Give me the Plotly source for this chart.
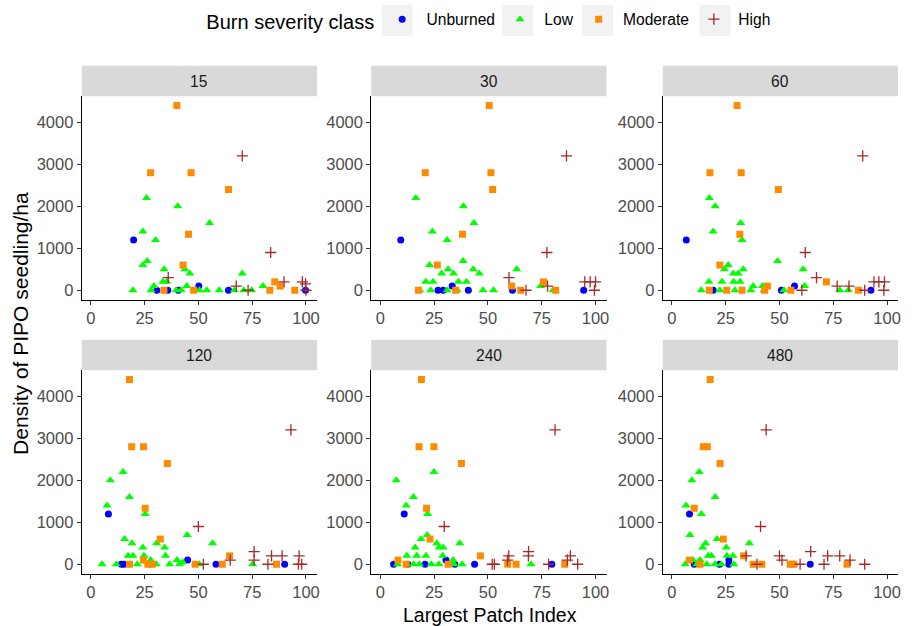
import plotly.graph_objects as go

# Largest Patch Index (%) and PIPO seedling density (seedlings/ha) per plot,
# grouped by analysis scale and burn severity class.
S15_UNBURNED = [(19.9, 1200), (50.2, 100), (64, 0), (30.7, 0), (35.8, 0), (40.7, 0), (99.8, 0)]
S15_LOW = [(25.9, 2200), (40.4, 2000), (55.2, 1600), (24.2, 1400), (30.1, 1200), (26.2, 700), (24.2, 600),
           (34.1, 500), (43.7, 500), (46, 400), (70.4, 400), (35.3, 200), (33.5, 200), (44.6, 100), (80, 100),
           (19.6, 0), (28, 0), (29.3, 100), (39.7, 0), (42, 0), (50.5, 0), (53.9, 0), (59.7, 0), (71.1, 0),
           (74.7, 0), (66.7, 0)]
S15_MODERATE = [(40, 4400), (27.8, 2800), (46.6, 2800), (64, 2400), (45.4, 1333), (42.9, 600), (34, 0),
                (47.8, 0), (85.5, 200), (88, 100), (83.2, 0), (94.8, 0)]
S15_HIGH = [(70.4, 3200), (83.6, 900), (36, 300), (67.6, 100), (73.1, 0), (89.8, 200), (98.3, 200),
            (99.8, 150), (100, 0)]

S30_UNBURNED = [(9.5, 1200), (33.4, 100), (26.8, 0), (29.2, 0), (40.9, 0), (61.4, 0), (94.5, 0)]
S30_LOW = [(16.5, 2200), (38.6, 2000), (43.5, 1600), (24.2, 1400), (31, 1200), (38.5, 700), (22.9, 600),
           (31.5, 500), (43.2, 500), (28.5, 400), (34, 400), (46, 400), (63.4, 500), (21.1, 200), (24.5, 200),
           (36.3, 200), (40, 200), (18.3, 0), (23.4, 0), (31.1, 0), (35.7, 0), (47.7, 0), (52.6, 0),
           (74.5, 100), (80.3, 0)]
S30_MODERATE = [(50.6, 4400), (20.9, 2800), (51.4, 2800), (52.2, 2400), (38.2, 1333), (26.5, 600), (17.7, 0),
                (35, 0), (61, 100), (65.2, 0), (75.8, 200), (81.5, 0)]
S30_HIGH = [(86.5, 3200), (77.4, 900), (59.8, 300), (77.7, 100), (67.7, 0), (95, 200), (97.5, 200),
            (100, 200), (99.5, 0)]

S60_UNBURNED = [(6.7, 1200), (57, 100), (50.9, 0), (19.2, 0), (92.5, 0)]
S60_LOW = [(17.4, 2200), (20.1, 2000), (32, 1600), (19.2, 1400), (32.6, 1200), (49.1, 700), (26.2, 600),
           (24.4, 500), (33.2, 500), (28.5, 400), (30.8, 400), (61, 500), (17.2, 200), (23.3, 200),
           (28.7, 200), (31.7, 200), (37.8, 100), (42.1, 100), (13.7, 0), (22.3, 0), (29.3, 0), (36.7, 0),
           (42.8, 0), (52.1, 0), (61.7, 100), (78, 0), (82, 0)]
S60_MODERATE = [(30.3, 4400), (17.7, 2800), (32.2, 2800), (49.5, 2400), (31.6, 1333), (22.3, 600),
                (17.4, 0), (25.5, 0), (32.6, 0), (43.1, 0), (44.4, 100), (55.3, 0), (71.8, 200), (86.7, 0)]
S60_HIGH = [(88.7, 3200), (62, 900), (67.2, 300), (76.8, 100), (82.3, 100), (93.9, 200), (96.2, 200),
            (98.8, 200), (98.5, 0), (60.4, 0), (89.6, 0)]

S120_UNBURNED = [(8.2, 1200), (45, 100), (14.2, 0), (15.4, 0), (58.2, 0), (90.1, 0)]
S120_LOW = [(15, 2200), (9.1, 2000), (18, 1600), (7.6, 1400), (25.3, 1200), (44.8, 700), (56.6, 500),
            (15.7, 600), (19.1, 500), (30.6, 500), (24.2, 400), (34.3, 400), (17.3, 200), (19.6, 200),
            (24.7, 200), (34.7, 200), (27.8, 100), (40.1, 100), (5.2, 0), (11.9, 0), (21.6, 0), (30.4, 0),
            (36.6, 0), (41.2, 0), (42.7, 50), (50.5, 0), (75.2, 0)]
S120_MODERATE = [(18, 4400), (19, 2800), (24.5, 2800), (35.6, 2400), (25.3, 1333), (32.3, 600), (64.5, 200),
                 (18, 0), (24.5, 100), (26.5, 0), (28.5, 0), (48.5, 0), (61.1, 0), (86.3, 0)]
S120_HIGH = [(93, 3200), (50, 900), (75.9, 300), (84, 200), (88.9, 200), (96.8, 200), (64.8, 100),
             (75.9, 100), (52.3, 0), (82.3, 0), (96.5, 0), (98, 0)]

S240_UNBURNED = [(11.1, 1200), (30.5, 100), (6.2, 0), (12.8, 0), (20.8, 0), (34.6, 0), (43.8, 0), (79.7, 0)]
S240_LOW = [(24.9, 2200), (7.4, 2000), (15.4, 1600), (12, 1400), (22, 1200), (21.8, 700), (18.9, 600),
            (36.9, 500), (26.2, 500), (16.2, 400), (27.4, 400), (29.2, 400), (12.3, 200), (16.9, 200),
            (21.2, 200), (29, 200), (33.8, 100), (8, 0), (15.4, 0), (18.2, 0), (23.7, 0), (27.2, 0), (38, 0),
            (34.2, 0), (70, 0)]
S240_MODERATE = [(19.1, 4400), (18, 2800), (24.9, 2800), (37.7, 2400), (21.5, 1333), (23.1, 600),
                 (46.5, 200), (8.2, 100), (12, 0), (31.5, 0), (59.2, 0), (63.1, 0), (85.7, 0)]
S240_HIGH = [(81.2, 3200), (29.7, 900), (68.9, 300), (59.7, 200), (88.3, 200), (68.8, 200), (59.1, 100),
             (86.9, 100), (52, 0), (53, 0), (78.2, 0), (91.7, 0)]

S480_UNBURNED = [(8.2, 1200), (26.5, 100), (10.4, 0), (22.1, 0), (26.5, 0), (64.3, 0)]
S480_LOW = [(12.7, 2200), (9.3, 2000), (20.1, 1600), (6.6, 1400), (13.7, 1200), (8.4, 700), (21, 600),
            (36, 500), (15.7, 500), (25.3, 400), (14.3, 400), (16.9, 200), (18.4, 200), (28.4, 200),
            (25.6, 200), (9.8, 100), (13.1, 100), (6.2, 0), (11.6, 0), (16.2, 0), (20, 0), (28.8, 0), (23, 0),
            (56.6, 0)]
S480_MODERATE = [(17.8, 4400), (14.6, 2800), (16.5, 2800), (22.4, 2400), (10.4, 1333), (23.9, 600),
                 (33.4, 200), (8.1, 100), (37.8, 0), (41.8, 0), (55, 0), (56.6, 0), (81.4, 0), (13.1, 0)]
S480_HIGH = [(43.8, 3200), (41.2, 900), (64.5, 300), (72.4, 200), (78, 200), (50, 200), (34.5, 200),
             (51.2, 100), (82.8, 100), (39.6, 0), (59.6, 0), (70.7, 0), (89.6, 0)]

SCALES = ["15", "30", "60", "120", "240", "480"]
CLASSES = ["Unburned", "Low", "Moderate", "High"]
X_TICKS = [0, 25, 50, 75, 100]
Y_TICKS = [0, 1000, 2000, 3000, 4000]

PANELS = {
    "15": [S15_UNBURNED, S15_LOW, S15_MODERATE, S15_HIGH],
    "30": [S30_UNBURNED, S30_LOW, S30_MODERATE, S30_HIGH],
    "60": [S60_UNBURNED, S60_LOW, S60_MODERATE, S60_HIGH],
    "120": [S120_UNBURNED, S120_LOW, S120_MODERATE, S120_HIGH],
    "240": [S240_UNBURNED, S240_LOW, S240_MODERATE, S240_HIGH],
    "480": [S480_UNBURNED, S480_LOW, S480_MODERATE, S480_HIGH],
}

# marker style per burn severity class
STYLE = {
    "Unburned": dict(symbol="circle", color="#0000FF", size=7, line=dict(width=0)),
    "Low": dict(symbol="triangle-up", color="#00FF00", size=8, line=dict(width=0)),
    "Moderate": dict(symbol="square", color="#FF8C00", size=7, line=dict(width=0)),
    "High": dict(symbol="cross-thin", color="#A52A2A", size=8, line=dict(width=1.3, color="#A52A2A")),
}
# legend labels get a non-breaking space in front to open up the key/label gap
NBSP = "\u00a0"

W, H = 914, 626
FONT = "Arial, Liberation Sans, sans-serif"

# panel pixel boxes (left, right) and (top, bottom)
COLS = [(82, 318), (372.5, 608.5), (665, 901)]
ROWS = [(96.3, 299.5), (370.3, 573.5)]
STRIP_H = 30.5

fig = go.Figure()
layout = dict(
    width=W, height=H,
    margin=dict(l=0, r=0, t=0, b=0),
    paper_bgcolor="white", plot_bgcolor="white",
    font=dict(family=FONT, color="#000000"),
    shapes=[], annotations=[],
)

for i, scale in enumerate(SCALES):
    r, c = divmod(i, 3)
    x0, x1 = COLS[c]
    y0, y1 = ROWS[r]
    n = "" if i == 0 else str(i + 1)
    xa, ya = "x" + n, "y" + n
    axis_common = dict(
        showline=True, linecolor="#000000", linewidth=1.1, mirror=False,
        ticks="outside", ticklen=4, tickwidth=1.1, tickcolor="#333333",
        showgrid=False, zeroline=False,
        tickfont=dict(family=FONT, size=16.5, color="#4D4D4D"),
    )
    layout["xaxis" + n] = dict(
        axis_common, domain=[x0 / W, x1 / W], anchor=ya,
        range=[-4.2, 105.1], tickvals=X_TICKS,
    )
    layout["yaxis" + n] = dict(
        axis_common, domain=[1 - y1 / H, 1 - y0 / H], anchor=xa,
        range=[-220, 4620], tickvals=Y_TICKS,
    )
    # facet strip
    layout["shapes"].append(dict(
        type="rect", xref="paper", yref="paper",
        x0=x0 / W, x1=x1 / W, y0=1 - y0 / H, y1=1 - (y0 - STRIP_H) / H,
        fillcolor="#D9D9D9", line=dict(width=0), layer="below",
    ))
    layout["annotations"].append(dict(
        text=scale, xref="paper", yref="paper",
        x=(x0 + x1) / 2 / W, y=1 - (y0 - STRIP_H / 2) / H,
        showarrow=False, xanchor="center", yanchor="middle",
        font=dict(family=FONT, size=15.6, color="#1A1A1A"),
    ))
    for cls, pts in zip(CLASSES, PANELS[scale]):
        st = STYLE[cls]
        fig.add_trace(go.Scatter(
            x=[p[0] for p in pts], y=[p[1] for p in pts],
            mode="markers", name=NBSP + cls, legendgroup=cls, showlegend=(i == 0),
            xaxis=xa, yaxis=ya, cliponaxis=False,
            marker=dict(symbol=st["symbol"], color=st["color"], size=st["size"], line=st["line"]),
        ))

# grey key backgrounds in the legend
for kx in [383, 504, 584, 702]:
    layout["shapes"].append(dict(
        type="rect", xref="paper", yref="paper",
        x0=kx / W, x1=(kx + 31) / W, y0=1 - 36 / H, y1=1 - 5 / H,
        fillcolor="#F2F2F2", line=dict(width=0), layer="below",
    ))

layout["legend"] = dict(
    orientation="h", x=205 / W, xanchor="left", y=1 - 20.5 / H, yanchor="middle",
    bgcolor="rgba(0,0,0,0)", borderwidth=0,
    title=dict(text="Burn severity class", font=dict(family=FONT, size=20, color="#000000"), side="left"),
    font=dict(family=FONT, size=15.6, color="#000000"),
    itemsizing="trace", tracegroupgap=0,
)

# shared axis titles
layout["annotations"].append(dict(
    text="Largest Patch Index", xref="paper", yref="paper",
    x=491.5 / W, y=1 - 614.5 / H, showarrow=False, xanchor="center", yanchor="middle",
    font=dict(family=FONT, size=19.5, color="#000000"),
))
layout["annotations"].append(dict(
    text="Density of PIPO seedling/ha", xref="paper", yref="paper",
    x=20 / W, y=1 - 323 / H, showarrow=False, xanchor="center", yanchor="middle", textangle=-90,
    font=dict(family=FONT, size=21, color="#000000"),
))

fig.update_layout(**layout)
fig.write_html("out.html")
